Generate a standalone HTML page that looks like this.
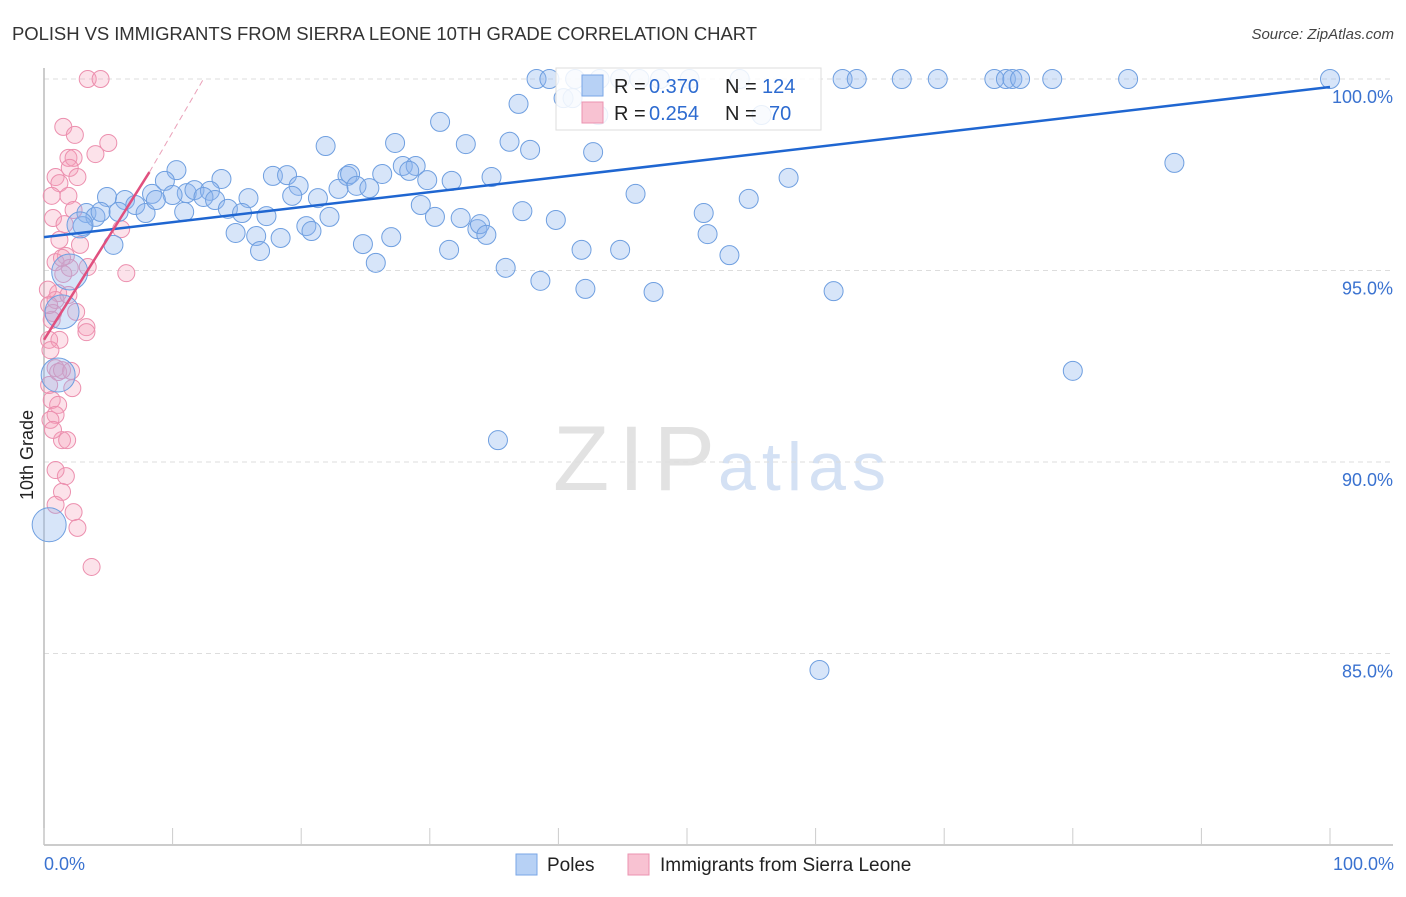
<!DOCTYPE html>
<html><head><meta charset="utf-8"><style>
body{margin:0;background:#fff;font-family:"Liberation Sans",sans-serif;}
svg text{font-family:"Liberation Sans",sans-serif;}
</style></head><body>
<svg width="1406" height="892" xmlns="http://www.w3.org/2000/svg" id="chart">
<text x="12" y="40" font-size="18.5" fill="#333" textLength="745">POLISH VS IMMIGRANTS FROM SIERRA LEONE 10TH GRADE CORRELATION CHART</text>
<text x="1394" y="39" font-size="15" fill="#444" font-style="italic" text-anchor="end">Source: ZipAtlas.com</text>
<text x="33" y="455" font-size="18" fill="#222" text-anchor="middle" transform="rotate(-90 33 455)">10th Grade</text>
<text x="553" y="490" font-size="92" fill="#e2e2e2" font-family="Liberation Serif" textLength="162">ZIP</text>
<text x="718" y="490" font-size="68" fill="#d4e1f4" textLength="168">atlas</text>
<g id="grid"></g><g id="axes"></g><g id="pts"></g><g id="lines"></g>
<g>
<rect x="556" y="68" width="265" height="62" fill="rgba(255,255,255,0.85)" stroke="#ddd"/>
<rect x="582" y="75" width="21" height="21" fill="#b7d1f5" stroke="#7aa6e6"/>
<rect x="582" y="102" width="21" height="21" fill="#f8c2d2" stroke="#eb93b0"/>
<text x="614" y="93" font-size="20" fill="#222">R =</text>
<text x="649" y="93" font-size="20" fill="#2d6bd0">0.370</text>
<text x="725" y="93" font-size="20" fill="#222">N =</text>
<text x="762" y="93" font-size="20" fill="#2d6bd0">124</text>
<text x="614" y="120" font-size="20" fill="#222">R =</text>
<text x="649" y="120" font-size="20" fill="#2d6bd0">0.254</text>
<text x="725" y="120" font-size="20" fill="#222">N =</text>
<text x="769" y="120" font-size="20" fill="#2d6bd0">70</text>
</g>
<g>
<rect x="516" y="854" width="21" height="21" fill="#b7d1f5" stroke="#7aa6e6"/>
<text x="547" y="871" font-size="19" fill="#222">Poles</text>
<rect x="628" y="854" width="21" height="21" fill="#f8c2d2" stroke="#eb93b0"/>
<text x="660" y="871" font-size="19" fill="#222">Immigrants from Sierra Leone</text>
</g>
</svg>
<script>
const blueX=[38.3,39.3,41.3,43.2,44.8,46.3,47.9,50.2,54.1,62.1,63.2,66.7,69.5,73.9,74.8,75.3,75.9,78.4,84.3,100,
36.9,40.4,41.1,43.1,55.8,30.8,21.9,27.3,32.8,36.2,37.8,42.7,87.9,
10.3,9.4,13.8,17.8,18.9,23.6,23.8,26.3,27.9,28.9,28.4,29.8,31.7,34.8,57.9,
4.9,6.3,8.4,11.1,10.0,11.7,12.9,12.4,13.3,14.3,15.9,15.4,19.8,19.3,21.3,22.9,24.3,25.3,46.0,54.8,
3.3,4.0,4.4,5.8,7.1,7.9,8.7,10.9,17.3,22.2,29.3,30.4,32.4,33.7,33.9,34.4,37.2,39.8,51.3,
3.0,14.9,16.5,18.4,20.4,20.8,24.8,27.0,31.5,35.9,38.6,41.8,44.8,42.1,47.4,51.6,53.3,61.4,16.8,25.8,5.4,80.0,35.3,60.3,
2.8,2.0,1.4,1.1,0.4];
const blueY=[100,100,100,100,100,100,100,100,100,100,100,100,100,100,100,100,100,100,100,100,
99.35,99.5,99.5,99.06,99.06,98.88,98.25,98.33,98.30,98.36,98.15,98.09,97.81,
97.62,97.34,97.39,97.47,97.49,97.47,97.52,97.52,97.73,97.73,97.60,97.36,97.34,97.44,97.42,
96.92,96.84,97.0,97.02,96.97,97.10,97.08,96.92,96.84,96.61,96.89,96.50,97.21,96.95,96.89,97.13,97.21,97.15,97.0,96.87,
96.5,96.4,96.53,96.53,96.71,96.5,96.84,96.53,96.42,96.4,96.71,96.4,96.37,96.08,96.21,95.93,96.55,96.32,96.5,
96.16,95.98,95.90,95.85,96.16,96.03,95.69,95.87,95.54,95.07,94.73,95.54,95.54,94.52,94.44,95.95,95.40,94.46,95.51,95.2,95.67,92.38,90.57,84.57,
96.19,94.96,93.92,92.27,88.36];
const blueSize=blueX.map((v,i)=>i>=blueX.length-5?[13,18,17,17,17][i-(blueX.length-5)]:9.5);
const pinkX=[3.4,4.4,1.5,2.4,1.9,2.3,2.0,5.0,4.0,0.9,2.6,1.2,0.6,0.7,1.6,1.9,2.3,1.2,6.0,1.7,0.9,2.0,3.4,6.4,1.5,1.1,0.9,0.7,1.9,2.5,3.3,3.3,0.6,0.4,1.2,0.5,0.9,1.1,2.1,2.2,0.4,0.6,1.1,0.9,0.5,1.4,1.8,1.7,0.9,1.4,0.9,2.3,2.6,3.7,0.7,0.4,0.3,1.4,2.8,1.4];
const pinkY=[100,100,98.75,98.54,97.94,97.94,97.68,98.33,98.04,97.44,97.44,97.28,96.95,96.37,96.21,96.95,96.58,95.80,96.08,95.38,95.22,95.07,95.09,94.93,94.91,94.41,94.23,93.89,94.36,93.92,93.52,93.39,93.71,93.19,93.19,92.92,92.45,92.35,92.38,91.93,92.01,91.62,91.49,91.23,91.10,90.57,90.57,89.63,89.79,89.22,88.88,88.69,88.28,87.26,90.84,94.1,94.5,95.33,95.67,92.4];
const xTicks=[0,10,20,30,40,50,60,70,80,90,100];
const yTicks=[100,95,90,85];
const yTickLabels=["100.0%","95.0%","90.0%","85.0%"];
const blueLine=[[0,95.87],[100,99.79]];
const pinkLine=[[0,93.19],[8.2,97.57]];
const pinkDash=[[8.2,97.57],[12.4,100]];

const X=v=>44+v*12.86, Y=v=>79+(100-v)*38.3;
const NS="http://www.w3.org/2000/svg";
function mk(tag,attrs,parent){const e=document.createElementNS(NS,tag);for(const k in attrs)e.setAttribute(k,attrs[k]);document.getElementById(parent).appendChild(e);return e;}
yTicks.forEach((t,i)=>{
 const g=mk('line',{x1:44,x2:1393,y1:Y(t),y2:Y(t),stroke:'#ddd','stroke-dasharray':'5,4'},'grid');
 
 
 const l=mk('text',{x:1393,y:Y(t)+24,'font-size':18,fill:'#3a72d0','text-anchor':'end'},'axes');
 l.textContent=yTickLabels[i];
 
 
});
const ax=mk('line',{x1:44,x2:1393,y1:845,y2:845,stroke:'#bbb','stroke-width':1.5},'axes');


const ay=mk('line',{x1:44,x2:44,y1:68,y2:845,stroke:'#bbb','stroke-width':1.5},'axes');


xTicks.forEach(t=>{
 const k=mk('line',{x1:X(t),x2:X(t),y1:828,y2:845,stroke:'#ccc'},'axes');
 
 
});
const xl0=mk('text',{x:44,y:870,'font-size':18,fill:'#3a72d0'},'axes');xl0.textContent='0.0%';


const xl1=mk('text',{x:1394,y:870,'font-size':18,fill:'#3a72d0','text-anchor':'end'},'axes');xl1.textContent='100.0%';


pinkX.forEach((v,i)=>{
 const c=mk('circle',{cx:X(v),cy:Y(pinkY[i]),r:8.5,fill:'rgba(244,160,186,0.3)',stroke:'#ec8fae','stroke-width':1},'pts');
 
 
});
blueX.forEach((v,i)=>{
 const c=mk('circle',{cx:X(v),cy:Y(blueY[i]),r:blueSize[i],fill:'rgba(140,180,238,0.35)',stroke:'#6f9fe0','stroke-width':1},'pts');
 
 
});
const bl=mk('line',{x1:X(blueLine[0][0]),y1:Y(blueLine[0][1]),x2:X(blueLine[1][0]),y2:Y(blueLine[1][1]),stroke:'#1f66d1','stroke-width':2.5},'lines');


const pl=mk('line',{x1:X(pinkLine[0][0]),y1:Y(pinkLine[0][1]),x2:X(pinkLine[1][0]),y2:Y(pinkLine[1][1]),stroke:'#e0507f','stroke-width':2.5},'lines');


const pd=mk('line',{x1:X(pinkDash[0][0]),y1:Y(pinkDash[0][1]),x2:X(pinkDash[1][0]),y2:Y(pinkDash[1][1]),stroke:'#eaa0b8','stroke-width':1,'stroke-dasharray':'6,4'},'lines');


</script>
</body></html>
